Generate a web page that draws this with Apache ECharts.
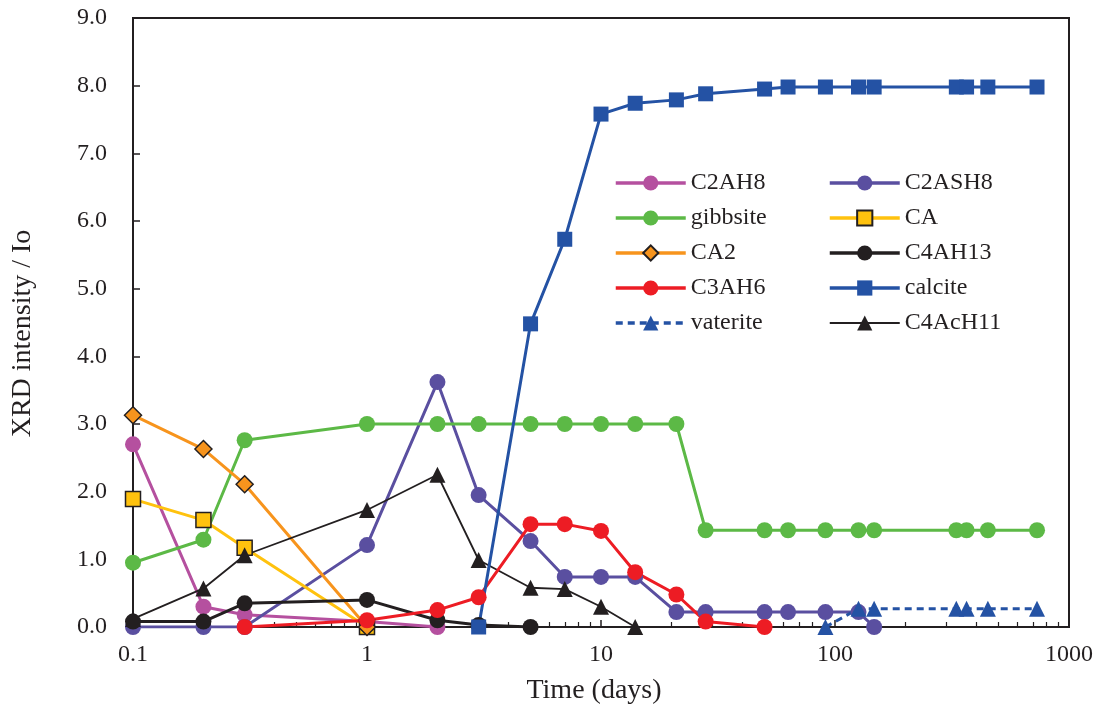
<!DOCTYPE html>
<html>
<head>
<meta charset="utf-8">
<script src="https://cdn.jsdelivr.net/npm/echarts@6/dist/echarts.min.js"></script>
<style>
html,body{margin:0;padding:0;background:#fff;}
#chart{width:1104px;height:713px;}
</style>
</head>
<body>
<div id="chart"></div>
<script>
// ---- data (time in days, XRD intensity / Io) ----
const tC2AH8 = [0.1, 0.2, 0.3, 1, 2];
const vC2AH8 = [2.7, 0.3, 0.18, 0.08, 0];

const tC2ASH8 = [0.1, 0.2, 0.3, 1, 2, 3, 5, 7, 10, 14, 21, 28, 50, 63, 91, 126, 147];
const vC2ASH8 = [0, 0, 0, 1.21, 3.62, 1.95, 1.27, 0.74, 0.74, 0.74, 0.22, 0.22, 0.22, 0.22, 0.22, 0.22, 0];

const tGibbsite = [0.1, 0.2, 0.3, 1, 2, 3, 5, 7, 10, 14, 21, 28, 50, 63, 91, 126, 147, 330, 365, 450, 730];
const vGibbsite = [0.95, 1.29, 2.76, 3.0, 3.0, 3.0, 3.0, 3.0, 3.0, 3.0, 3.0, 1.43, 1.43, 1.43, 1.43, 1.43, 1.43, 1.43, 1.43, 1.43, 1.43];

const tCA = [0.1, 0.2, 0.3, 1];
const vCA = [1.89, 1.58, 1.17, 0];

const tCA2 = [0.1, 0.2, 0.3, 1];
const vCA2 = [3.13, 2.63, 2.11, 0];

const tC4AH13 = [0.1, 0.2, 0.3, 1, 2, 3, 5];
const vC4AH13 = [0.08, 0.08, 0.35, 0.40, 0.10, 0.03, 0];

const tC3AH6 = [0.3, 1, 2, 3, 5, 7, 10, 14, 21, 28, 50];
const vC3AH6 = [0, 0.1, 0.25, 0.44, 1.52, 1.52, 1.42, 0.81, 0.48, 0.08, 0];

const tCalcite = [3, 5, 7, 10, 14, 21, 28, 50, 63, 91, 126, 147, 330, 365, 450, 730];
const vCalcite = [0, 4.48, 5.73, 7.58, 7.74, 7.79, 7.88, 7.95, 7.98, 7.98, 7.98, 7.98, 7.98, 7.98, 7.98, 7.98];

const tVaterite = [91, 126, 147, 330, 365, 450, 730];
const vVaterite = [0, 0.27, 0.27, 0.27, 0.27, 0.27, 0.27];

const tC4AcH11 = [0.1, 0.2, 0.3, 1, 2, 3, 5, 7, 10, 14];
const vC4AcH11 = [0.12, 0.57, 1.06, 1.73, 2.25, 0.99, 0.58, 0.56, 0.30, 0];

const minorTickValues = [0.2,0.3,0.4,0.5,0.6,0.7,0.8,0.9,2,3,4,5,6,7,8,9,20,30,40,50,60,70,80,90,200,300,400,500,600,700,800,900];

// ---- build ----
const FONT = '"Liberation Serif", "Times New Roman", serif';
const INK = '#231f20';
const zip = (t, v) => t.map((x, i) => [x, v[i]]);

function mk(name, t, v, color, symbol, size, opts) {
  opts = opts || {};
  return {
    name: name,
    type: 'line',
    data: zip(t, v),
    symbol: symbol,
    symbolSize: size,
    lineStyle: { color: color, width: opts.width || 3, type: opts.dash ? [7, 5] : 'solid' },
    itemStyle: {
      color: color,
      borderColor: opts.border || color,
      borderWidth: opts.border ? 1.5 : 0
    },
    emphasis: { disabled: true }
  };
}

const series = [
  mk('C2AH8', tC2AH8, vC2AH8, '#b5509f', 'circle', 16),
  mk('C2ASH8', tC2ASH8, vC2ASH8, '#5a4fa0', 'circle', 16),
  mk('gibbsite', tGibbsite, vGibbsite, '#5cb946', 'circle', 16),
  mk('CA', tCA, vCA, '#ffc20e', 'rect', 15, { border: INK }),
  mk('CA2', tCA2, vCA2, '#f7941d', 'diamond', 17, { border: INK }),
  mk('C4AcH11', tC4AcH11, vC4AcH11, INK, 'triangle', 16, { width: 1.8 }),
  mk('C4AH13', tC4AH13, vC4AH13, INK, 'circle', 16),
  mk('C3AH6', tC3AH6, vC3AH6, '#ed1c24', 'circle', 16),
  mk('calcite', tCalcite, vCalcite, '#2452a4', 'rect', 15),
  mk('vaterite', tVaterite, vVaterite, '#2452a4', 'triangle', 16, { dash: true })
];

function legendItems(names) {
  return names.map(n => ({ name: n, lineStyle: { width: n === 'C4AcH11' ? 2 : 3.5 } }));
}

const legendCommon = {
  orient: 'vertical',
  itemWidth: 70,
  itemHeight: 19,
  itemGap: 11,
  textStyle: { fontFamily: FONT, fontSize: 24, lineHeight: 24, color: INK },
  selectedMode: false
};

const chart = echarts.init(document.getElementById('chart'), null, { renderer: 'canvas' });
chart.setOption({
  animation: false,
  backgroundColor: '#fff',
  grid: { left: 133, right: 35, top: 18, bottom: 86, show: true, borderColor: INK, borderWidth: 2, backgroundColor: 'transparent' },
  legend: [
    Object.assign({}, legendCommon, { left: 609, top: 166, data: legendItems(['C2AH8', 'gibbsite', 'CA2', 'C3AH6', 'vaterite']) }),
    Object.assign({}, legendCommon, { left: 823, top: 166, data: legendItems(['C2ASH8', 'CA', 'C4AH13', 'calcite', 'C4AcH11']) })
  ],
  xAxis: [
    {
      type: 'log', logBase: 10, min: 0.1, max: 1000,
      position: 'bottom',
      name: 'Time (days)', nameLocation: 'middle', nameGap: 50,
      nameTextStyle: { fontFamily: FONT, fontSize: 28, color: INK, padding: [0, 14, 0, 0] },
      axisLine: { show: true, lineStyle: { color: INK, width: 2 } },
      axisTick: { show: true, inside: true, length: 7, lineStyle: { color: INK, width: 1.5 } },
      axisLabel: { fontFamily: FONT, fontSize: 24, color: INK, margin: 16, formatter: v => String(+v.toPrecision(3)) },
      splitLine: { show: false }
    },
    {
      type: 'log', logBase: 10, min: 0.1, max: 1000,
      position: 'bottom', offset: 0,
      axisLine: { show: false },
      axisTick: { show: true, inside: true, length: 5, customValues: minorTickValues, lineStyle: { color: INK, width: 1.2 } },
      axisLabel: { show: false },
      splitLine: { show: false }
    }
  ],
  yAxis: {
    type: 'value', min: 0, max: 9, interval: 1,
    name: 'XRD intensity / Io', nameLocation: 'middle', nameGap: 96,
    nameTextStyle: { fontFamily: FONT, fontSize: 28, color: INK, padding: [0, 22, 0, 0] },
    axisLine: { show: true, lineStyle: { color: INK, width: 2 } },
    axisTick: { show: true, inside: true, length: 7, lineStyle: { color: INK, width: 1.5 } },
    axisLabel: { fontFamily: FONT, fontSize: 24, color: INK, margin: 26, formatter: v => v.toFixed(1) },
    splitLine: { show: false }
  },
  series: series
});
</script>
</body>
</html>
